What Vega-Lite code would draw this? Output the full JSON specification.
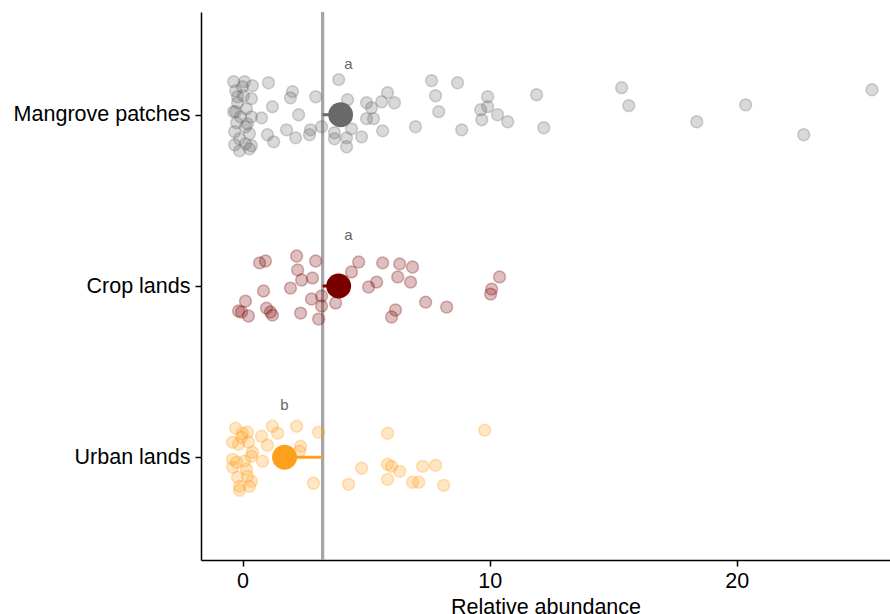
{
  "$schema": "https://vega.github.io/schema/vega-lite/v6.json",
  "width": 689,
  "height": 548,
  "autosize": {"type": "none"},
  "padding": {"left": 201, "top": 12, "right": 0, "bottom": 54},
  "background": "white",
  "config": {
    "view": {"stroke": null},
    "font": "Liberation Sans",
    "axis": {
      "grid": false,
      "domainColor": "black",
      "domainWidth": 1.5,
      "tickColor": "black",
      "tickWidth": 1.5,
      "tickSize": 6,
      "labelColor": "black",
      "labelFont": "Liberation Sans",
      "labelFontSize": 21.5,
      "titleFont": "Liberation Sans",
      "titleFontSize": 21.5,
      "titleFontWeight": "normal",
      "titleColor": "black"
    },
    "range": {"category": ["#696969", "#7a0000", "#ffa01c"]}
  },
  "datasets": {
    "points": [
      {"group": "Mangrove patches", "abundance": -0.36, "y": 3.193},
      {"group": "Mangrove patches", "abundance": 0.08, "y": 3.193},
      {"group": "Mangrove patches", "abundance": 0.40, "y": 3.170},
      {"group": "Mangrove patches", "abundance": -0.28, "y": 3.140},
      {"group": "Mangrove patches", "abundance": 0.04, "y": 3.111},
      {"group": "Mangrove patches", "abundance": 0.36, "y": 3.094},
      {"group": "Mangrove patches", "abundance": -0.20, "y": 3.070},
      {"group": "Mangrove patches", "abundance": 0.16, "y": 3.035},
      {"group": "Mangrove patches", "abundance": -0.36, "y": 3.018},
      {"group": "Mangrove patches", "abundance": -0.08, "y": 2.988},
      {"group": "Mangrove patches", "abundance": 0.36, "y": 2.988},
      {"group": "Mangrove patches", "abundance": -0.24, "y": 2.953},
      {"group": "Mangrove patches", "abundance": 0.12, "y": 2.930},
      {"group": "Mangrove patches", "abundance": -0.32, "y": 2.901},
      {"group": "Mangrove patches", "abundance": 0.28, "y": 2.889},
      {"group": "Mangrove patches", "abundance": -0.12, "y": 2.860},
      {"group": "Mangrove patches", "abundance": 0.12, "y": 2.830},
      {"group": "Mangrove patches", "abundance": -0.32, "y": 2.825},
      {"group": "Mangrove patches", "abundance": 0.36, "y": 2.819},
      {"group": "Mangrove patches", "abundance": -0.12, "y": 2.789},
      {"group": "Mangrove patches", "abundance": 0.28, "y": 2.801},
      {"group": "Mangrove patches", "abundance": 0.00, "y": 3.164},
      {"group": "Mangrove patches", "abundance": -0.28, "y": 3.018},
      {"group": "Mangrove patches", "abundance": 0.20, "y": 2.947},
      {"group": "Mangrove patches", "abundance": -0.20, "y": 3.105},
      {"group": "Mangrove patches", "abundance": 1.05, "y": 3.187},
      {"group": "Mangrove patches", "abundance": 1.21, "y": 3.047},
      {"group": "Mangrove patches", "abundance": 2.02, "y": 3.135},
      {"group": "Mangrove patches", "abundance": 1.94, "y": 3.099},
      {"group": "Mangrove patches", "abundance": 2.27, "y": 3.000},
      {"group": "Mangrove patches", "abundance": 0.77, "y": 2.982},
      {"group": "Mangrove patches", "abundance": 2.96, "y": 3.105},
      {"group": "Mangrove patches", "abundance": 1.01, "y": 2.883},
      {"group": "Mangrove patches", "abundance": 1.26, "y": 2.842},
      {"group": "Mangrove patches", "abundance": 1.78, "y": 2.912},
      {"group": "Mangrove patches", "abundance": 2.15, "y": 2.865},
      {"group": "Mangrove patches", "abundance": 2.75, "y": 2.912},
      {"group": "Mangrove patches", "abundance": 2.71, "y": 2.883},
      {"group": "Mangrove patches", "abundance": 3.20, "y": 2.930},
      {"group": "Mangrove patches", "abundance": 3.89, "y": 3.205},
      {"group": "Mangrove patches", "abundance": 4.25, "y": 3.088},
      {"group": "Mangrove patches", "abundance": 3.72, "y": 2.895},
      {"group": "Mangrove patches", "abundance": 3.72, "y": 2.860},
      {"group": "Mangrove patches", "abundance": 4.21, "y": 2.865},
      {"group": "Mangrove patches", "abundance": 4.21, "y": 2.813},
      {"group": "Mangrove patches", "abundance": 4.41, "y": 2.918},
      {"group": "Mangrove patches", "abundance": 4.82, "y": 2.871},
      {"group": "Mangrove patches", "abundance": 5.02, "y": 3.070},
      {"group": "Mangrove patches", "abundance": 5.22, "y": 3.041},
      {"group": "Mangrove patches", "abundance": 5.63, "y": 3.076},
      {"group": "Mangrove patches", "abundance": 5.87, "y": 3.129},
      {"group": "Mangrove patches", "abundance": 6.15, "y": 3.070},
      {"group": "Mangrove patches", "abundance": 5.02, "y": 2.977},
      {"group": "Mangrove patches", "abundance": 5.30, "y": 2.977},
      {"group": "Mangrove patches", "abundance": 5.67, "y": 2.906},
      {"group": "Mangrove patches", "abundance": 7.00, "y": 2.930},
      {"group": "Mangrove patches", "abundance": 7.65, "y": 3.199},
      {"group": "Mangrove patches", "abundance": 8.70, "y": 3.187},
      {"group": "Mangrove patches", "abundance": 7.81, "y": 3.111},
      {"group": "Mangrove patches", "abundance": 7.94, "y": 3.018},
      {"group": "Mangrove patches", "abundance": 8.87, "y": 2.912},
      {"group": "Mangrove patches", "abundance": 9.92, "y": 3.105},
      {"group": "Mangrove patches", "abundance": 9.64, "y": 3.029},
      {"group": "Mangrove patches", "abundance": 9.92, "y": 3.047},
      {"group": "Mangrove patches", "abundance": 9.68, "y": 2.971},
      {"group": "Mangrove patches", "abundance": 10.32, "y": 3.000},
      {"group": "Mangrove patches", "abundance": 10.73, "y": 2.959},
      {"group": "Mangrove patches", "abundance": 11.90, "y": 3.117},
      {"group": "Mangrove patches", "abundance": 12.19, "y": 2.924},
      {"group": "Mangrove patches", "abundance": 15.34, "y": 3.158},
      {"group": "Mangrove patches", "abundance": 15.63, "y": 3.053},
      {"group": "Mangrove patches", "abundance": 18.38, "y": 2.959},
      {"group": "Mangrove patches", "abundance": 20.36, "y": 3.058},
      {"group": "Mangrove patches", "abundance": 22.71, "y": 2.883},
      {"group": "Mangrove patches", "abundance": 25.47, "y": 3.146},
      {"group": "Crop lands", "abundance": 0.69, "y": 2.135},
      {"group": "Crop lands", "abundance": 0.93, "y": 2.146},
      {"group": "Crop lands", "abundance": 2.19, "y": 2.175},
      {"group": "Crop lands", "abundance": 2.23, "y": 2.094},
      {"group": "Crop lands", "abundance": 2.96, "y": 2.146},
      {"group": "Crop lands", "abundance": 2.39, "y": 2.035},
      {"group": "Crop lands", "abundance": 2.83, "y": 2.047},
      {"group": "Crop lands", "abundance": 1.94, "y": 1.988},
      {"group": "Crop lands", "abundance": 0.85, "y": 1.971},
      {"group": "Crop lands", "abundance": 0.12, "y": 1.912},
      {"group": "Crop lands", "abundance": -0.16, "y": 1.854},
      {"group": "Crop lands", "abundance": -0.04, "y": 1.848},
      {"group": "Crop lands", "abundance": 0.24, "y": 1.825},
      {"group": "Crop lands", "abundance": 0.97, "y": 1.871},
      {"group": "Crop lands", "abundance": 1.13, "y": 1.848},
      {"group": "Crop lands", "abundance": 1.21, "y": 1.830},
      {"group": "Crop lands", "abundance": 2.35, "y": 1.842},
      {"group": "Crop lands", "abundance": 2.79, "y": 1.924},
      {"group": "Crop lands", "abundance": 3.20, "y": 1.942},
      {"group": "Crop lands", "abundance": 3.20, "y": 1.883},
      {"group": "Crop lands", "abundance": 3.08, "y": 1.807},
      {"group": "Crop lands", "abundance": 3.77, "y": 1.901},
      {"group": "Crop lands", "abundance": 4.41, "y": 2.082},
      {"group": "Crop lands", "abundance": 4.70, "y": 2.140},
      {"group": "Crop lands", "abundance": 5.10, "y": 1.994},
      {"group": "Crop lands", "abundance": 5.43, "y": 2.023},
      {"group": "Crop lands", "abundance": 5.67, "y": 2.135},
      {"group": "Crop lands", "abundance": 6.36, "y": 2.129},
      {"group": "Crop lands", "abundance": 6.88, "y": 2.111},
      {"group": "Crop lands", "abundance": 6.28, "y": 2.053},
      {"group": "Crop lands", "abundance": 6.80, "y": 2.023},
      {"group": "Crop lands", "abundance": 7.41, "y": 1.906},
      {"group": "Crop lands", "abundance": 8.26, "y": 1.877},
      {"group": "Crop lands", "abundance": 6.19, "y": 1.860},
      {"group": "Crop lands", "abundance": 6.03, "y": 1.819},
      {"group": "Crop lands", "abundance": 10.40, "y": 2.053},
      {"group": "Crop lands", "abundance": 10.08, "y": 1.982},
      {"group": "Crop lands", "abundance": 10.04, "y": 1.953},
      {"group": "Urban lands", "abundance": -0.28, "y": 1.170},
      {"group": "Urban lands", "abundance": 0.00, "y": 1.140},
      {"group": "Urban lands", "abundance": 0.20, "y": 1.146},
      {"group": "Urban lands", "abundance": -0.04, "y": 1.117},
      {"group": "Urban lands", "abundance": -0.40, "y": 1.088},
      {"group": "Urban lands", "abundance": -0.16, "y": 1.076},
      {"group": "Urban lands", "abundance": 0.24, "y": 1.088},
      {"group": "Urban lands", "abundance": 0.40, "y": 1.029},
      {"group": "Urban lands", "abundance": 0.36, "y": 1.006},
      {"group": "Urban lands", "abundance": -0.40, "y": 0.988},
      {"group": "Urban lands", "abundance": -0.24, "y": 0.971},
      {"group": "Urban lands", "abundance": 0.08, "y": 0.977},
      {"group": "Urban lands", "abundance": -0.40, "y": 0.942},
      {"group": "Urban lands", "abundance": 0.16, "y": 0.930},
      {"group": "Urban lands", "abundance": -0.20, "y": 0.883},
      {"group": "Urban lands", "abundance": 0.20, "y": 0.889},
      {"group": "Urban lands", "abundance": 0.36, "y": 0.860},
      {"group": "Urban lands", "abundance": -0.12, "y": 0.830},
      {"group": "Urban lands", "abundance": 0.28, "y": 0.830},
      {"group": "Urban lands", "abundance": -0.12, "y": 0.807},
      {"group": "Urban lands", "abundance": 0.77, "y": 1.123},
      {"group": "Urban lands", "abundance": 1.21, "y": 1.181},
      {"group": "Urban lands", "abundance": 1.42, "y": 1.140},
      {"group": "Urban lands", "abundance": 1.01, "y": 1.070},
      {"group": "Urban lands", "abundance": 0.81, "y": 0.977},
      {"group": "Urban lands", "abundance": 2.19, "y": 1.181},
      {"group": "Urban lands", "abundance": 2.35, "y": 1.064},
      {"group": "Urban lands", "abundance": 2.31, "y": 1.035},
      {"group": "Urban lands", "abundance": 3.08, "y": 1.146},
      {"group": "Urban lands", "abundance": 2.87, "y": 0.848},
      {"group": "Urban lands", "abundance": 5.87, "y": 1.140},
      {"group": "Urban lands", "abundance": 9.80, "y": 1.158},
      {"group": "Urban lands", "abundance": 4.82, "y": 0.936},
      {"group": "Urban lands", "abundance": 5.87, "y": 0.959},
      {"group": "Urban lands", "abundance": 6.03, "y": 0.947},
      {"group": "Urban lands", "abundance": 6.36, "y": 0.918},
      {"group": "Urban lands", "abundance": 7.29, "y": 0.947},
      {"group": "Urban lands", "abundance": 7.81, "y": 0.953},
      {"group": "Urban lands", "abundance": 4.29, "y": 0.842},
      {"group": "Urban lands", "abundance": 5.87, "y": 0.871},
      {"group": "Urban lands", "abundance": 6.88, "y": 0.854},
      {"group": "Urban lands", "abundance": 7.13, "y": 0.854},
      {"group": "Urban lands", "abundance": 8.14, "y": 0.836}
    ],
    "means": [
      {"group": "Mangrove patches", "mean": 3.97, "overall": 3.24, "y": 3, "letter": "a", "letterX": 4.29, "letterY": 3.298},
      {"group": "Crop lands", "mean": 3.89, "overall": 3.24, "y": 2, "letter": "a", "letterX": 4.29, "letterY": 2.298},
      {"group": "Urban lands", "mean": 1.70, "overall": 3.24, "y": 1, "letter": "b", "letterX": 1.70, "letterY": 1.304}
    ]
  },
  "layer": [
    {
      "data": {"name": "means"},
      "mark": {"type": "rule", "color": "#a6a6a6", "strokeWidth": 3},
      "encoding": {
        "x": {"datum": 3.24, "type": "quantitative", "scale": {"domain": [-1.68, 26.2], "nice": false, "zero": false}}
      }
    },
    {
      "data": {"name": "means"},
      "mark": {"type": "rule", "strokeWidth": 3},
      "encoding": {
        "x": {"field": "mean", "type": "quantitative"},
        "x2": {"field": "overall"},
        "y": {"field": "y", "type": "quantitative"},
        "color": {"field": "group", "type": "nominal", "legend": null, "scale": {"domain": ["Mangrove patches", "Crop lands", "Urban lands"], "range": ["#696969", "#7a0000", "#ffa01c"]}}
      }
    },
    {
      "data": {"name": "points"},
      "mark": {"type": "circle", "size": 140, "fillOpacity": 0.25, "strokeOpacity": 0.3, "strokeWidth": 1.5},
      "encoding": {
        "x": {
          "field": "abundance",
          "type": "quantitative",
          "scale": {"domain": [-1.68, 26.2], "nice": false, "zero": false},
          "axis": {"values": [0, 10, 20], "title": "Relative abundance", "titlePadding": 5, "labelPadding": 4}
        },
        "y": {
          "field": "y",
          "type": "quantitative",
          "scale": {"domain": [0.4, 3.6], "nice": false, "zero": false},
          "axis": {
            "values": [1, 2, 3],
            "title": null,
            "labelPadding": 5,
            "labelExpr": "datum.value == 3 ? 'Mangrove patches' : datum.value == 2 ? 'Crop lands' : 'Urban lands'"
          }
        },
        "fill": {"field": "group", "type": "nominal", "legend": null, "scale": {"domain": ["Mangrove patches", "Crop lands", "Urban lands"], "range": ["#696969", "#7a0000", "#ffa01c"]}},
        "stroke": {"field": "group", "type": "nominal", "legend": null, "scale": {"domain": ["Mangrove patches", "Crop lands", "Urban lands"], "range": ["#696969", "#7a0000", "#ffa01c"]}}
      }
    },
    {
      "data": {"name": "means"},
      "mark": {"type": "circle", "size": 620, "opacity": 1},
      "encoding": {
        "x": {"field": "mean", "type": "quantitative"},
        "y": {"field": "y", "type": "quantitative"},
        "color": {"field": "group", "type": "nominal", "legend": null, "scale": {"domain": ["Mangrove patches", "Crop lands", "Urban lands"], "range": ["#696969", "#7a0000", "#ffa01c"]}}
      }
    },
    {
      "data": {"name": "means"},
      "mark": {"type": "text", "fontSize": 15, "color": "#666666", "baseline": "middle", "align": "center"},
      "encoding": {
        "x": {"field": "letterX", "type": "quantitative"},
        "y": {"field": "letterY", "type": "quantitative"},
        "text": {"field": "letter"}
      }
    }
  ]
}
